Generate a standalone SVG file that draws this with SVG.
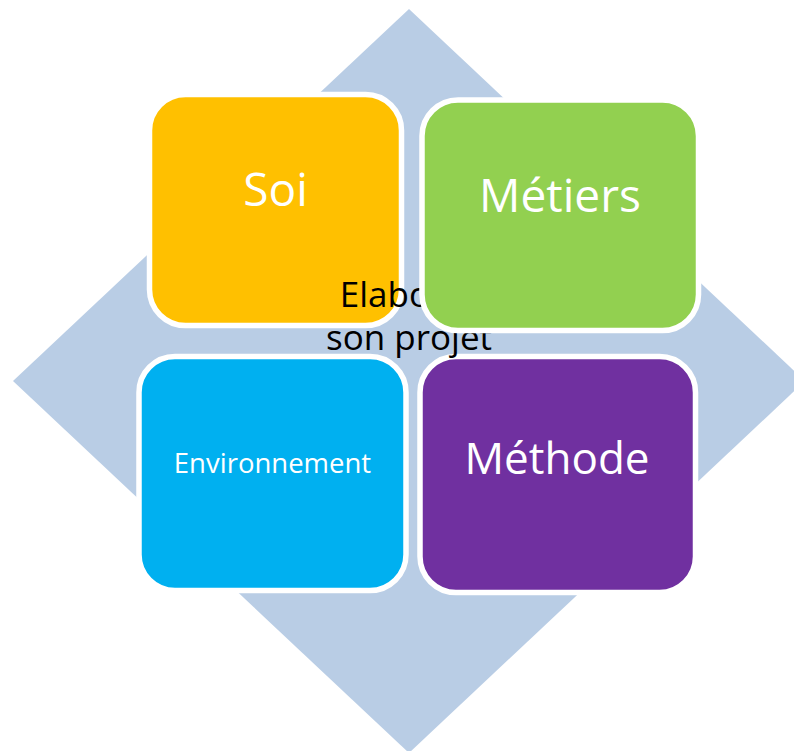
<svg xmlns="http://www.w3.org/2000/svg" width="794" height="751" viewBox="0 0 794 751">
<style>
.box{stroke:#FFFFFF;stroke-width:5.5}
.lbl{font-family:"Open Sans","Noto Sans","Liberation Sans",sans-serif;fill:#FFFFFF;text-anchor:middle}
.center{font-family:"Open Sans","Noto Sans","Liberation Sans",sans-serif;fill:#000000;text-anchor:middle;font-size:35px}
</style>
<rect width="794" height="751" fill="#FFFFFF"/>
<g id="background">
<polygon points="409,9 805,381 409,753 13,381" fill="#B9CDE5"/>
</g>
<g id="connectors"></g>
<g id="soi">
<rect class="box" x="149.5" y="94.5" width="252" height="231" rx="36" fill="#FFC000"/>
<text class="lbl" x="275.5" y="206" font-size="46">Soi</text>
</g>
<g id="environnement">
<rect class="box" x="139" y="356.5" width="267" height="234" rx="36" fill="#00B0F0"/>
<text class="lbl" x="272.5" y="473" font-size="27.5">Environnement</text>
</g>
<g id="methode">
<rect class="box" x="420" y="356.5" width="275.5" height="236" rx="36" fill="#7030A0"/>
<text class="lbl" x="557" y="474" font-size="44">Méthode</text>
</g>
<g id="center-label">
<text class="center" x="409" y="307">Elaborer</text>
<text class="center" x="409" y="350">son projet</text>
</g>
<g id="metiers">
<rect class="box" x="422" y="100" width="276.5" height="230.5" rx="36" fill="#92D050"/>
<text class="lbl" x="560" y="212" font-size="46">Métiers</text>
</g>
</svg>
